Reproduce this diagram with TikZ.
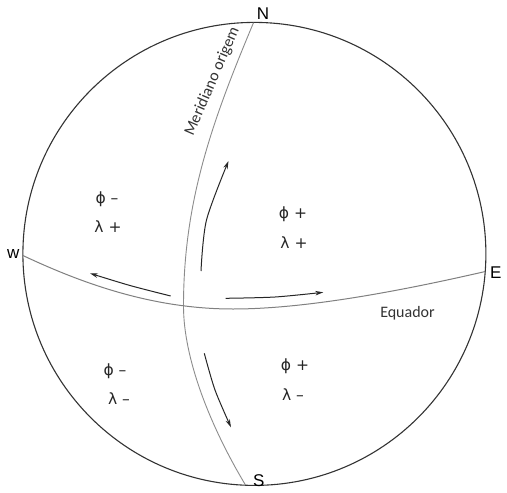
\documentclass[tikz,border=0pt]{standalone}
\usepackage{fontspec}
\setmainfont{Carlito}
\newfontfamily\arialf{Liberation Sans}
\newfontfamily\grk{DejaVu Sans}
\usetikzlibrary{arrows.meta}
\begin{document}
\begin{tikzpicture}[x=1pt,y=-1pt,
  globe/.style={draw=black!80, line width=1.1pt},
  meridian/.style={draw=black!45, line width=0.9pt},
  equator/.style={draw=black!50, line width=1pt},
  motion/.style={draw=black!85, line width=1pt, -{Stealth[length=8pt,width=4.5pt]}},
  pole/.style={font=\arialf\fontsize{17}{17}\selectfont, inner sep=0pt},
  quad/.style={font=\grk\fontsize{15.5}{15.5}\selectfont, text=black!85, inner sep=0pt},
  lab/.style={font=\fontsize{16}{16}\selectfont, text=black!80, inner sep=0pt}]
\useasboundingbox (0,0) rectangle (507,493);
\fill[white] (0,0) rectangle (507,493);
% globe outline
\coordinate (C) at (254.4,253.9);
\draw[globe] (C) circle[radius=231.5];
% poles and cardinal points on the outline
\coordinate (N) at (253.5,22.7);
\coordinate (S) at (245.5,485);
\coordinate (W) at (22.9,255.5);
\coordinate (E) at (485.3,271.5);
% crossing of meridian and equator, lowest point of equator
\coordinate (X) at (183.5,306);
\coordinate (B) at (233,309);
% meridian
\draw[meridian] (N) .. controls (211.5,122.7) and (183.5,202) .. (X)
                    .. controls (183.5,358) and (209.5,425) .. (S);
% equator
\draw[equator] (W) .. controls (82.9,283.7) and (153,309) .. (B)
                   .. controls (303,309) and (395.3,292.2) .. (E);
% motion arrows
\coordinate (u1) at (201,271);
\coordinate (u2) at (206.5,220);
\coordinate (u3) at (228.5,161);
\draw[motion] plot[smooth] coordinates {(u1) (u2) (u3)};
\coordinate (d1) at (204.3,353.3);
\coordinate (d2) at (215,390);
\coordinate (d3) at (231,427.3);
\draw[motion] plot[smooth] coordinates {(d1) (d2) (d3)};
\coordinate (l1) at (170.7,296);
\coordinate (l2) at (130,285.5);
\coordinate (l3) at (90,273.3);
\draw[motion] plot[smooth] coordinates {(l1) (l2) (l3)};
\coordinate (r1) at (225.7,298.3);
\coordinate (r2) at (275,297);
\coordinate (r3) at (323.3,292.3);
\draw[motion] plot[smooth] coordinates {(r1) (r2) (r3)};
% pole labels
\node[pole] (nN) at (263,13.3) {N};
\node[pole] (nS) at (258.7,480.3) {S};
\node[pole] (nW) at (13.3,253.8) {w};
\node[pole] (nE) at (495.7,272.5) {E};
% line labels
\node[lab] (eq) at (407.5,313) {Equador};
\node[lab, rotate=66.7] (mer) at (212.3,81.4) {Meridiano origem};
% quadrant labels
\node[quad] (q1a) at (107,199) {ϕ –};
\node[quad] (q1b) at (108,227) {λ +};
\node[quad] (q2a) at (293,214) {ϕ +};
\node[quad] (q2b) at (294,243) {λ +};
\node[quad] (q3a) at (115,371) {ϕ –};
\node[quad] (q3b) at (119,399) {λ –};
\node[quad] (q4a) at (295,366) {ϕ +};
\node[quad] (q4b) at (293,395) {λ –};
\end{tikzpicture}
\end{document}
